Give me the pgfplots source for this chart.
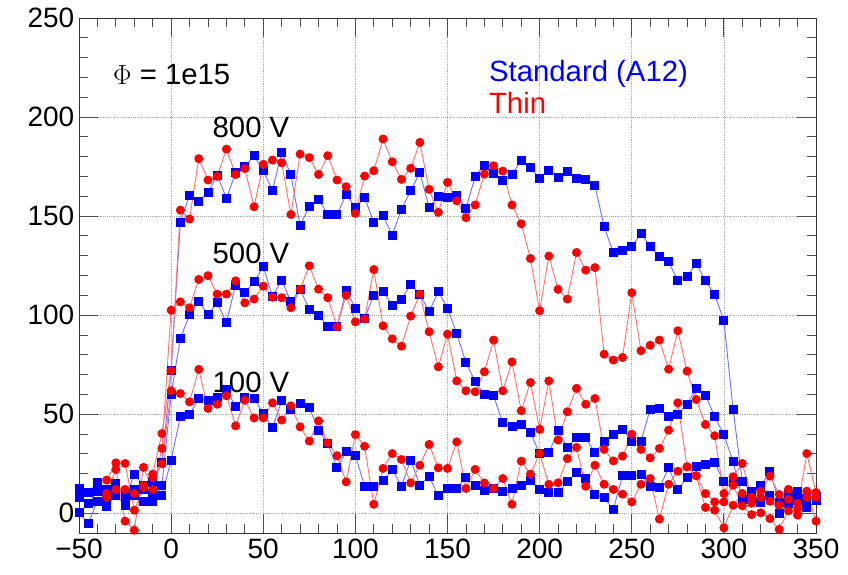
\documentclass[border=0pt]{standalone}
\usepackage{pgfplots}
\pgfplotsset{compat=1.18}
\usepackage{fontspec}
\setmainfont{Liberation Sans}
\definecolor{lblue}{rgb}{0.45,0.45,1}
\definecolor{lred}{rgb}{1,0.45,0.45}
\begin{document}
\begin{tikzpicture}
\begin{axis}[
  scale only axis, width=552.75pt, height=386.25pt,
  xmin=-50, xmax=350, ymin=-10, ymax=250,
  xtick={-50,0,...,350}, ytick={0,50,...,250},
  xticklabels={−50,0,50,100,150,200,250,300,350},
  minor x tick num=4, minor y tick num=4,
  tick align=inside, major tick length=14pt, minor tick length=7pt,
  every tick/.style={black!70, line width=0.6pt},
  axis line style={black!80, line width=0.6pt},
  grid=major, major grid style={densely dotted, gray!70, line width=0.5pt},
  tick label style={font=\fontsize{21}{23}\selectfont},
  xticklabel style={yshift=-1pt},
  /pgf/number format/assume math mode=true,
  clip=false,
]
\coordinate (SW) at (rel axis cs:0,0);
\coordinate (NE) at (rel axis cs:1,1);
% ---- Blue 800 V
\addplot[lblue, line width=0.7pt, mark=square*, mark size=3pt, mark options={fill=blue, draw=blue}] coordinates {
(-50,12.5)(-45,10.4)(-40,15.3)(-35,12)(-30,15)(-25,6.6)(-20,19.7)(-15,14.1)(-10,15.3)(-5,25.4)(0,72)
(5,147)(10,160.6)(15,157.6)(20,161.8)(25,170.7)(30,158.9)(35,171.9)(40,174.9)(45,180.5)(50,172.9)
(55,163.1)(60,182.2)(65,171)(70,145.1)(75,155)(80,158.6)(85,150.8)(90,150.8)(95,160.9)(100,154.4)
(105,159.3)(110,146.8)(115,150.3)(120,140.4)(125,153.4)(130,162.8)(135,171.9)(140,154.4)(145,160.1)(150,159.3)
(155,160.6)(160,153.9)(165,169.9)(170,175.8)(175,171.5)(180,168.2)(185,171.2)(190,178)(195,174.4)(200,169)
(205,173.2)(210,169.5)(215,172.7)(220,168.9)(225,168.5)(230,165.5)(235,144.6)(240,131.5)(245,132.8)(250,134.5)
(255,141.2)(260,134.8)(265,129.5)(270,127)(275,117.3)(280,119.4)(285,126.1)(290,117.3)(295,110.4)(300,97.1)
(305,52.4)(310,15.8)(315,10.8)(320,13.8)(325,20.9)(330,5.2)(335,9.4)(340,10.8)(345,7.4)(350,8.2)};
% ---- Blue 500 V
\addplot[lblue, line width=0.7pt, mark=square*, mark size=3pt, mark options={fill=blue, draw=blue}] coordinates {
(-50,0.2)(-45,-5.2)(-40,6.1)(-35,3.2)(-30,9)(-25,4)(-20,9.1)(-15,5.7)(-10,5.7)(-5,14.1)(0,60)
(5,88.2)(10,100.3)(15,106.7)(20,100.5)(25,106.2)(30,96.3)(35,115.2)(40,111.3)(45,116.8)(50,124.4)
(55,109.3)(60,117.7)(65,106.7)(70,113)(75,102.9)(80,100)(85,94.1)(90,94.1)(95,112.6)(100,103.4)
(105,98.3)(110,110.1)(115,112.1)(120,105)(125,107.9)(130,115.5)(135,110.6)(140,101.7)(145,111.8)(150,103.4)
(155,90.7)(160,76.1)(165,66.3)(170,60.1)(175,59.3)(180,45.6)(185,43.6)(190,44.9)(195,40.7)(200,30.1)
(205,30.6)(210,41.6)(215,33.2)(220,38)(225,38)(230,30.5)(235,36)(240,39.9)(245,42.4)(250,36.4)
(255,36.4)(260,52.5)(265,52.9)(270,49)(275,50)(280,55)(285,63)(290,59.6)(295,48.7)(300,39.7)
(305,25.9)(310,6.9)(315,6.9)(320,5.2)(325,9.1)(330,-0.2)(335,4.9)(340,6.6)(345,2.7)(350,6.2)};
% ---- Blue 100 V
\addplot[lblue, line width=0.7pt, mark=square*, mark size=3pt, mark options={fill=blue, draw=blue}] coordinates {
(-50,8)(-45,5)(-40,11)(-35,8)(-30,12)(-25,10)(-20,12)(-15,12)(-10,10)(-5,9.1)(0,26.8)
(5,48.7)(10,49.8)(15,57.9)(20,56.7)(25,58.2)(30,62.5)(35,53.7)(40,58.2)(45,57.9)(50,50.3)
(55,43.1)(60,56.7)(65,52.5)(70,55.4)(75,53.2)(80,41.9)(85,35.2)(90,22.9)(95,31)(100,29.3)
(105,13.6)(110,13.6)(115,16.3)(120,22.1)(125,13.6)(130,26.8)(135,14.1)(140,18.4)(145,9.1)(150,12.5)
(155,12.5)(160,18)(165,13.8)(170,11.3)(175,12.5)(180,10.8)(185,12.5)(190,13.8)(195,16.3)(200,12)
(205,10.3)(210,10.3)(215,15.8)(220,20.4)(225,17.5)(230,9.6)(235,7.7)(240,1.9)(245,18.9)(250,18.9)
(255,19.5)(260,13.6)(265,12.8)(270,22.9)(275,12.1)(280,18)(285,23.4)(290,24.6)(295,25.4)(300,15.8)
(305,15.8)(310,15.8)(315,10.8)(320,13.8)(325,9.1)(330,5.2)(335,9.4)(340,10.8)(345,7.4)(350,6.2)};
% ---- Red 800 V
\addplot[lred, line width=0.7pt, mark=*, mark size=3pt, mark options={fill=red, draw=red}] coordinates {
(-35,16.7)(-30,25.4)(-25,25.1)(-20,1.5)(-15,13)(-10,19.7)(-5,40.2)(0,71.9)
(5,153)(10,148.5)(15,179)(20,168.2)(25,170)(30,183.8)(35,171)(40,174)(45,154.7)(50,176.1)
(55,178.3)(60,176.9)(65,150.8)(70,181.3)(75,179.5)(80,171)(85,180.5)(90,168.2)(95,164.8)(100,151.3)
(105,170.2)(110,172.9)(115,188.9)(120,177.4)(125,168.5)(130,174.1)(135,187.2)(140,163.5)(145,151.9)(150,167)
(155,157.7)(160,149.2)(165,155.6)(170,171.2)(175,175.4)(180,172.7)(185,155.6)(190,146.1)(195,128.6)(200,102.2)
(205,129.8)(210,113)(215,108.1)(220,131.6)(225,122.7)(230,124)(235,80.3)(240,77.3)(245,78.6)(250,111.3)
(255,82)(260,84.8)(265,87.4)(270,72.7)(275,92.1)(280,71.7)(285,57.4)(290,44.8)(295,39.1)(300,9.9)
(305,18.4)(310,25.1)(315,8)(320,11.1)(325,18.7)(330,9.4)(335,12)(340,2.4)(345,30.1)(350,10.4)};
% ---- Red 500 V
\addplot[lred, line width=0.7pt, mark=*, mark size=3pt, mark options={fill=red, draw=red}] coordinates {
(-35,10)(-30,22.1)(-25,-4)(-20,-8.6)(-15,23.1)(-10,12)(-5,32.7)(0,102.5)
(5,106.7)(10,103.7)(15,118)(20,119.9)(25,110.6)(30,110.6)(35,117.3)(40,106.2)(45,108.1)(50,114.6)
(55,109)(60,108.8)(65,103.7)(70,113)(75,124.9)(80,113.1)(85,108.8)(90,94.1)(95,110)(100,96.6)
(105,98)(110,123)(115,94.6)(120,88)(125,84.3)(130,99.5)(135,110.6)(140,91.6)(145,73.9)(150,90.4)
(155,66.8)(160,61.8)(165,61.3)(170,71.4)(175,87.4)(180,61.8)(185,76.4)(190,51.7)(195,66)(200,42.3)
(205,66.8)(210,36.9)(215,51.2)(220,63)(225,55)(230,57.9)(235,32.2)(240,26.4)(245,28.8)(250,39.9)
(255,32.2)(260,27.9)(265,32.7)(270,41.9)(275,55.7)(280,23.4)(285,18.9)(290,9.9)(295,5.7)(300,5.7)
(305,14.1)(310,3.7)(315,-0.7)(320,0.2)(325,-2.7)(330,-8.2)(335,1.2)(340,-1)(345,11.1)(350,-4)};
% ---- Red 100 V
\addplot[lred, line width=0.7pt, mark=*, mark size=3pt, mark options={fill=red, draw=red}] coordinates {
(-35,8)(-30,12)(-25,12)(-20,10)(-15,14)(-10,18)(-5,25)(0,61.8)
(5,60.4)(10,56.2)(15,72.6)(20,52.9)(25,55)(30,59.3)(35,44.1)(40,57)(45,48.1)(50,48.1)
(55,55.7)(60,47)(65,54.2)(70,43.6)(75,36.4)(80,46.6)(85,35.5)(90,29)(95,15.8)(100,39.7)
(105,33.8)(110,4.5)(115,22.6)(120,30.1)(125,27.1)(130,15.3)(135,24.2)(140,34.7)(145,22.9)(150,22.6)
(155,36)(160,12.5)(165,22.1)(170,15.3)(175,12.5)(180,17.5)(185,4.5)(190,26.3)(195,19.7)(200,30.1)
(205,14.6)(210,15.3)(215,27.6)(220,33.2)(225,13.6)(230,24.2)(235,14.6)(240,12)(245,9.6)(250,5.7)
(255,14.6)(260,17.5)(265,-3)(270,14.6)(275,21.2)(280,23.4)(285,18.9)(290,2.9)(295,1.5)(300,-7.4)
(305,4)(310,10)(315,5)(320,8)(325,6)(330,4)(335,7)(340,5)(345,8)(350,8)};
\node[anchor=west, font=\fontsize{22}{24}\selectfont] at (axis cs:-34,221.5) {$\Phi$ = 1e15};
\node[anchor=west, font=\fontsize{22}{24}\selectfont] at (axis cs:20,195) {800 V};
\node[anchor=west, font=\fontsize{22}{24}\selectfont] at (axis cs:20,131) {500 V};
\node[anchor=west, font=\fontsize{22}{24}\selectfont] at (axis cs:20,66) {100 V};
\node[anchor=west, font=\fontsize{22}{24}\selectfont, text=blue] at (axis cs:170,222) {Standard (A12)};
\node[anchor=west, font=\fontsize{22}{24}\selectfont, text=red] at (axis cs:170,207) {Thin};
\end{axis}
\pgfresetboundingbox
\path ([shift={(-59.25pt,-30.75pt)}]SW) rectangle ([shift={(24pt,13.5pt)}]NE);
\end{tikzpicture}
\end{document}
